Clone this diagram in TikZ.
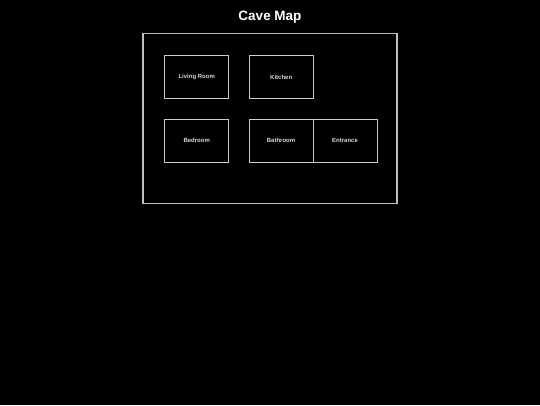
\documentclass[tikz,border=0pt]{standalone}
\usepackage{fontspec}
\setmainfont{Liberation Sans}
\begin{document}
\begin{tikzpicture}[x=1pt,y=-1pt,
  room/.style={draw=black!20!white, line width=1pt, text=black!15!white, font=\bfseries\fontsize{6}{7}\selectfont, minimum width=64pt, minimum height=43pt, inner sep=0pt, outer sep=0pt, anchor=north west},
  frame/.style={draw=black!25!white, line width=1.2pt, outer sep=0pt}]
\fill[black] (0,0) rectangle (540,405);
\useasboundingbox (0,0) rectangle (540,405);
\node[text=white, font=\bfseries\fontsize{13.5}{16}\selectfont] (title) at (270,17.5) {Cave Map};
\node[frame, minimum width=254pt, minimum height=169.5pt, inner sep=0pt, anchor=north west] (cave) at (143,33.7) {};
\node[room] (living) at (164.7,55.7) {Living Room};
\node[room] (kitchen) at (249.2,55.7) {Kitchen};
\node[room] (bedroom) at (164.7,119) {Bedroom};
\node[room] (bathroom) at (249,119) {Bathroom};
\node[room] (entrance) at (313,119) {Entrance};
\end{tikzpicture}
\end{document}
